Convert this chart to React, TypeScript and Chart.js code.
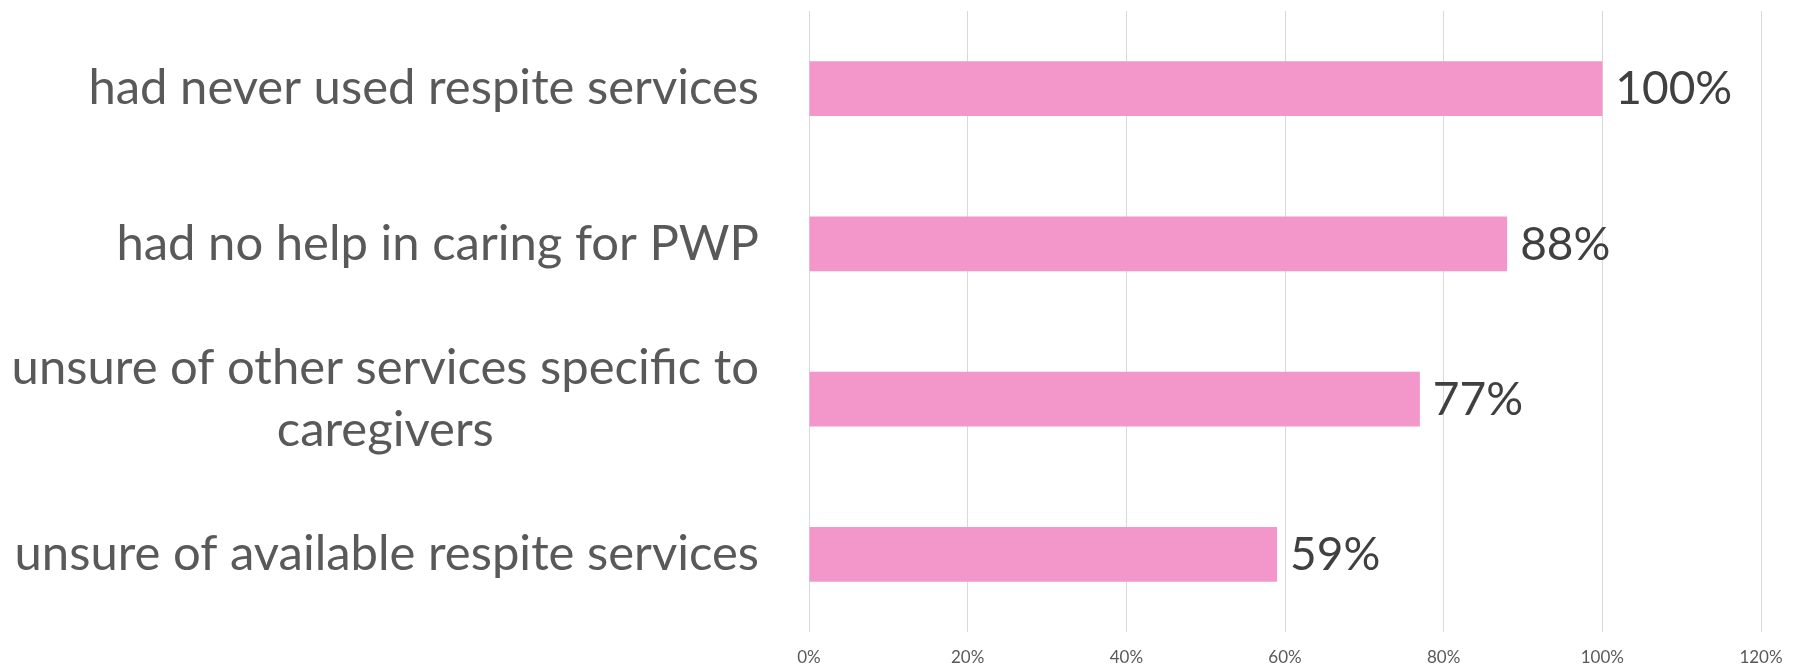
import React, { useEffect, useRef } from "react";
import { Chart, registerables } from "chart.js";

Chart.register(...registerables);

const categories: string[][] = [
  ["had never used respite services"],
  ["had no help in caring for PWP"],
  ["unsure of other services specific to", "caregivers"],
  ["unsure of available respite services"],
];
const values: number[] = [1.0, 0.88, 0.77, 0.59];
const tickValues: number[] = [0, 0.2, 0.4, 0.6, 0.8, 1.0, 1.2];

const FONT = "Lato, 'Open Sans', sans-serif";
const BAR_COLOR = "#F397CB";

const pct = (v: number) => Math.round(v * 100) + "%";

const customLabels = {
  id: "customLabels",
  afterDatasetsDraw(chart: any) {
    const ctx = chart.ctx;
    const yScale = chart.scales.y;
    const meta = chart.getDatasetMeta(0);
    ctx.save();
    // category labels
    ctx.font = `49px ${FONT}`;
    ctx.fillStyle = "#595959";
    ctx.textAlign = "center";
    ctx.textBaseline = "middle";
    const blockRight = chart.chartArea.left - 50;
    const lineH = 62;
    categories.forEach((lines, i) => {
      const yc = yScale.getPixelForValue(i);
      const w = Math.max(...lines.map((l) => ctx.measureText(l).width));
      const cx = blockRight - w / 2;
      const y0 = yc - ((lines.length - 1) * lineH) / 2;
      lines.forEach((l, j) => ctx.fillText(l, cx, y0 + j * lineH));
    });
    // data labels
    ctx.font = `46px ${FONT}`;
    ctx.fillStyle = "#404040";
    ctx.textAlign = "left";
    meta.data.forEach((bar: any, i: number) => {
      ctx.fillText(pct(values[i]), bar.x + 13, bar.y + 1);
    });
    ctx.restore();
  },
};

export default function App() {
  const ref = useRef<HTMLCanvasElement | null>(null);
  useEffect(() => {
    document.body.style.margin = "0";
    const chart = new Chart(ref.current as HTMLCanvasElement, {
      type: "bar",
      data: {
        labels: categories.map((c) => c.join(" ")),
        datasets: [
          {
            data: values,
            backgroundColor: BAR_COLOR,
            borderWidth: 0,
            categoryPercentage: 1,
            barPercentage: 0.354,
          },
        ],
      },
      options: {
        indexAxis: "y",
        animation: false,
        responsive: false,
        maintainAspectRatio: false,
        layout: { padding: { top: 11, right: 43, bottom: 3, left: 0 } },
        plugins: { legend: { display: false }, tooltip: { enabled: false } },
        scales: {
          x: {
            min: 0,
            max: 1.2,
            afterBuildTicks: (scale: any) => {
              scale.ticks = tickValues.map((v) => ({ value: v }));
            },
            afterFit: (scale: any) => {
              scale.height = 35;
            },
            grid: { color: "#D9D9D9", lineWidth: 1, drawTicks: false },
            border: { display: false },
            ticks: {
              padding: 15,
              maxRotation: 0,
              color: "#595959",
              font: { family: FONT, size: 17 },
              callback: (v: any) => pct(Number(v)),
            },
          },
          y: {
            grid: { display: false },
            border: { display: false },
            ticks: { display: false },
            afterFit: (scale: any) => {
              scale.width = 809;
            },
          },
        },
      },
      plugins: [customLabels],
    });
    return () => chart.destroy();
  }, []);
  return (
    <div style={{ width: 1804, height: 670 }}>
      <canvas ref={ref} width={1804} height={670} style={{ display: "block" }} />
    </div>
  );
}
